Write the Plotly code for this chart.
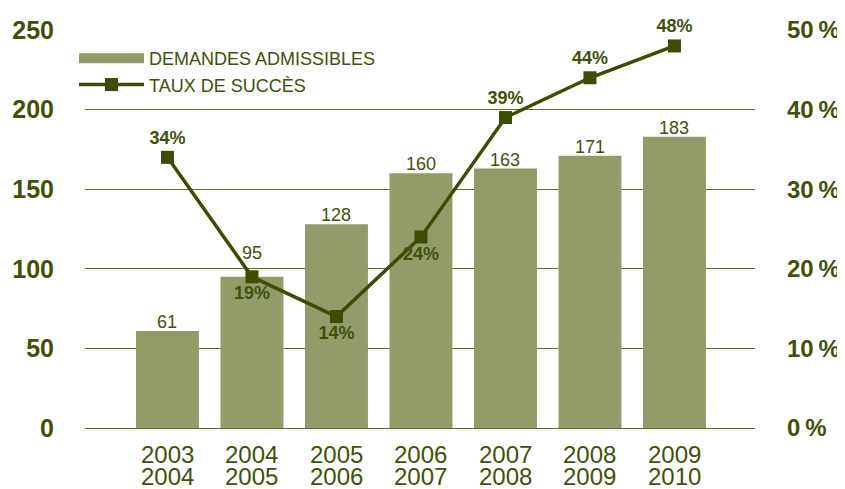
import plotly.graph_objects as go

categories = ["2003-2004", "2004-2005", "2005-2006", "2006-2007",
              "2007-2008", "2008-2009", "2009-2010"]
year_start = ["2003", "2004", "2005", "2006", "2007", "2008", "2009"]
year_end = ["2004", "2005", "2006", "2007", "2008", "2009", "2010"]
demandes = [61, 95, 128, 160, 163, 171, 183]
taux = [34, 19, 14, 24, 39, 44, 48]
taux_labels = ["34%", "19%", "14%", "24%", "39%", "44%", "48%"]
taux_label_pos = ["top center", "bottom center", "bottom center", "bottom center",
                  "top center", "top center", "top center"]
left_ticks = [0, 50, 100, 150, 200, 250]
right_ticks = [0, 10, 20, 30, 40, 50]
right_ticktext = ["0\u2009%", "10\u2009%", "20\u2009%", "30\u2009%", "40\u2009%", "50\u2009%"]

# style: extra vertical offset (px) of each bar's value label
bar_label_shift = [-3, 12, -3, -3, -3, -3, -3]

BAR = "#939b69"
DARK = "#3c4d00"
TEXT = "#3f5208"
GRID = "#627222"
FONT = "Liberation Sans, Arial, sans-serif"

fig = go.Figure()
fig.add_trace(go.Bar(
    x=categories, y=demandes, name="DEMANDES ADMISSIBLES",
    marker=dict(color=BAR, line=dict(width=0)),
    width=0.745, showlegend=False,
))
# legend proxy for the bars (wide swatch, as in the original)
fig.add_trace(go.Scatter(
    x=[None], y=[None], name="DEMANDES ADMISSIBLES", mode="lines",
    line=dict(color=BAR, width=15),
))
fig.add_trace(go.Scatter(
    x=categories, y=taux, name="TAUX DE SUCCÈS", yaxis="y2",
    mode="lines+markers+text",
    line=dict(color=DARK, width=3.5),
    marker=dict(symbol="square", size=13, color=DARK),
    text=taux_labels, textposition=taux_label_pos,
    textfont=dict(family=FONT, size=18, color=TEXT, weight="bold"),
    cliponaxis=False,
))

annotations = []
for c, v, s in zip(categories, demandes, bar_label_shift):
    annotations.append(dict(x=c, y=v, xref="x", yref="y", text=str(v),
                            showarrow=False, yanchor="bottom", yshift=s,
                            font=dict(family=FONT, size=18, color=TEXT)))
for c, a, b in zip(categories, year_start, year_end):
    annotations.append(dict(x=c, y=0, xref="x", yref="paper", text=a,
                            showarrow=False, yanchor="middle", yshift=-26,
                            font=dict(family=FONT, size=24, color=TEXT)))
    annotations.append(dict(x=c, y=0, xref="x", yref="paper", text=b,
                            showarrow=False, yanchor="middle", yshift=-48,
                            font=dict(family=FONT, size=24, color=TEXT)))

# the page body has an 8px margin; the figure is sized/offset to compensate
fig.update_layout(
    width=837, height=481,
    margin=dict(l=77, r=90, t=22, b=61),
    paper_bgcolor="white", plot_bgcolor="white",
    font=dict(family=FONT, color=TEXT),
    showlegend=True,
    legend=dict(
        x=-0.0164, y=0.975, xanchor="left", yanchor="top",
        bgcolor="rgba(0,0,0,0)",
        font=dict(family=FONT, size=18, color=TEXT),
        tracegroupgap=0, itemwidth=65,
    ),
    annotations=annotations,
    xaxis=dict(
        type="category", range=[-0.976, 6.953], automargin=False,
        showgrid=False, zeroline=False, showline=False,
        ticks="", showticklabels=False,
    ),
    yaxis=dict(
        range=[0, 250], tickvals=left_ticks, automargin=False,
        showgrid=True, gridcolor=GRID, gridwidth=1,
        zeroline=True, zerolinecolor=GRID, zerolinewidth=1.3,
        showline=False, ticks="", ticklabelstandoff=30, layer="below traces",
        tickfont=dict(family=FONT, size=25, color=TEXT, weight="bold"),
    ),
    yaxis2=dict(
        range=[0, 50], tickvals=right_ticks, ticktext=right_ticktext,
        overlaying="y", side="right", automargin=False,
        showgrid=False, zeroline=False, showline=False, ticks="",
        ticklabelstandoff=31,
        tickfont=dict(family=FONT, size=24, color=TEXT, weight="bold"),
    ),
)

fig.write_html("out.html")
